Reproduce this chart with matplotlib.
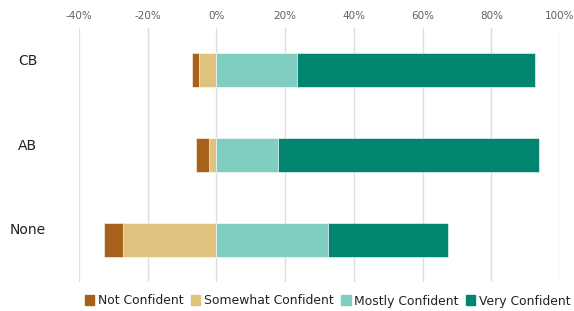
import matplotlib.pyplot as plt
import matplotlib.patches as mpatches
import numpy as np

# Data (percent of respondents)
groups = ["CB", "AB", "None"]
not_confident = [2.2, 3.9, 5.6]
somewhat_confident = [5.0, 2.1, 27.1]
mostly_confident = [23.5, 17.8, 32.4]
very_confident = [69.2, 76.1, 34.9]

labels = ["Not Confident", "Somewhat Confident", "Mostly Confident", "Very Confident"]
colors = ["#a6611a", "#dfc27d", "#80cdc1", "#018571"]

fig = plt.figure(figsize=(5.74, 3.11), dpi=100)
ax = fig.add_axes([79 / 574, 1 - 282 / 311, (560 - 79) / 574, (282 - 28) / 311])

y = np.arange(len(groups))
h = 0.4
nc = np.array(not_confident)
sc = np.array(somewhat_confident)
mc = np.array(mostly_confident)
vc = np.array(very_confident)

# negative side: somewhat next to zero, not confident further left
ax.barh(y, -sc, height=h, color=colors[1], edgecolor="white", linewidth=0.4, zorder=3)
ax.barh(y, -nc, left=-sc, height=h, color=colors[0], edgecolor="white", linewidth=0.4, zorder=3)
# positive side
ax.barh(y, mc, height=h, color=colors[2], edgecolor="white", linewidth=0.4, zorder=3)
ax.barh(y, vc, left=mc, height=h, color=colors[3], edgecolor="white", linewidth=0.4, zorder=3)

ax.set_xlim(-40, 100)
ax.set_ylim(len(groups) - 0.5, -0.5)
ax.set_xticks(np.arange(-40, 101, 20))
ax.set_xticklabels([f"{v}%" for v in range(-40, 101, 20)])
ax.xaxis.tick_top()
ax.tick_params(axis="x", length=0, pad=5, labelsize=7.5, labelcolor="#606060")
ax.set_yticks(y)
ax.set_yticklabels([])
ax.tick_params(axis="y", length=0)
# group labels sit a little above the bar centres, as in the original
for yi, g in zip(y, groups):
    ax.text(-55, yi - 0.11, g, ha="center", va="center", fontsize=10, color="#222222",
            clip_on=False)

ax.grid(axis="x", color="#dddddd", linewidth=1, zorder=0)
for s in ax.spines.values():
    s.set_visible(False)

handles = [mpatches.Patch(color=c, label=l) for c, l in zip(colors, labels)]
fig.legend(handles=handles, loc="center", bbox_to_anchor=(328 / 574, 1 - 301 / 311),
           ncol=4, frameon=False, fontsize=8.9, handlelength=0.75, handleheight=0.9,
           handletextpad=0.3, columnspacing=0.6, labelcolor="#222222")

fig.savefig("out.png", dpi=100)
